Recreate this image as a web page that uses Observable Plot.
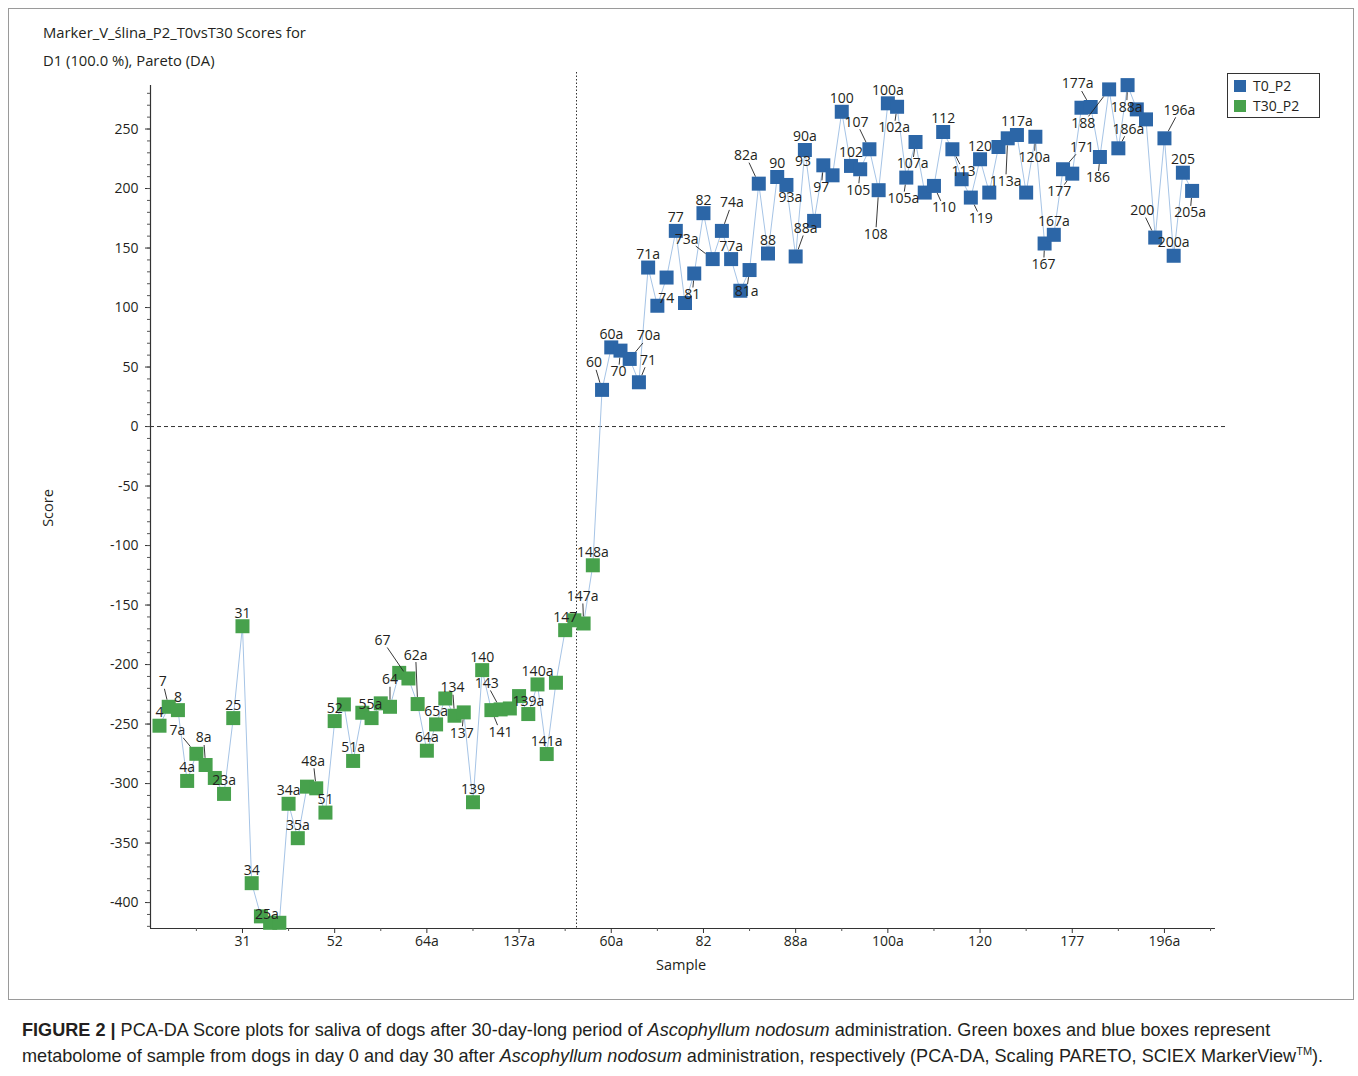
<!DOCTYPE html>
<html>
<head>
<meta charset="utf-8">
<script src="https://cdn.jsdelivr.net/npm/d3@7"></script>
<script src="https://cdn.jsdelivr.net/npm/@observablehq/plot@0.6"></script>
<style>
  html, body { margin: 0; padding: 0; background: #fff; }
  #page { position: relative; width: 1358px; height: 1076px; overflow: hidden; font-family: "Open Sans", sans-serif; color: #231f20; }
  #frame { position: absolute; left: 8px; top: 8px; width: 1346px; height: 992px; border: 1px solid #9a9a9a; box-sizing: border-box; }
  #chart { position: absolute; left: 0; top: 0; }
  .title { position: absolute; left: 43px; font-size: 14.8px; line-height: 18px; white-space: nowrap; }
  .axis-title { position: absolute; font-size: 14.5px; line-height: 18px; white-space: nowrap; }
  #legend { position: absolute; left: 1227px; top: 73px; width: 93px; height: 45px; border: 1.5px solid #333; box-sizing: border-box; background: #fff; }
  .lg-item { position: absolute; left: 6px; font-size: 14px; line-height: 16px; white-space: nowrap; }
  .lg-sw { display: inline-block; width: 12px; height: 12px; vertical-align: -1px; margin-right: 7px; }
  #caption { position: absolute; left: 22px; top: 1017px; font-family: "Liberation Sans", Arial, sans-serif; font-size: 18.1px; line-height: 26px; color: #231f20; white-space: nowrap; }
  #caption sup { font-size: 11px; line-height: 0; vertical-align: 7px; }
</style>
</head>
<body>
<div id="page">
  <div id="frame"></div>
  <div class="title" style="top:23px">Marker_V_ślina_P2_T0vsT30 Scores for</div>
  <div class="title" style="top:51px">D1 (100.0 %), Pareto (DA)</div>
  <div id="chart"></div>
  <div class="axis-title" id="ytitle" style="left:48px; top:508px; transform: translate(-50%,-50%) rotate(-90deg);">Score</div>
  <div class="axis-title" id="xtitle" style="left:681px; top:965px; transform: translate(-50%,-50%);">Sample</div>
  <div id="legend"></div>
  <div id="caption"><b>FIGURE 2 |</b> PCA-DA Score plots for saliva of dogs after 30-day-long period of <i>Ascophyllum nodosum</i> administration. Green boxes and blue boxes represent<br>metabolome of sample from dogs in day 0 and day 30 after <i>Ascophyllum nodosum</i> administration, respectively (PCA-DA, Scaling PARETO, SCIEX MarkerView<sup>TM</sup>).</div>
</div>
<script>
// ---------------- DATA ----------------
const seriesNames = ["T0_P2", "T30_P2"];
const seriesColors = ["#2c66a7", "#47a14c"];

// number of leading samples belonging to T30_P2 (green); the rest are T0_P2 (blue)
const t30Count = 48;

// PCA-DA score of every sample, in sample order 1..113
const scores = [
  -251.4, -235.5, -238.3, -297.8, -275.0, -284.4, -295.3, -308.7, -245.0, -167.8,
  -383.7, -411.6, -417.0, -417.0, -317.0, -345.9, -302.6, -304.0, -324.4, -247.5,
  -233.5, -281.0, -240.5, -245.0, -232.6, -235.5, -207.0, -211.7, -233.2, -272.4,
  -250.3, -228.5, -243.0, -240.2, -315.7, -204.7, -238.3, -237.7, -236.9, -226.5,
  -241.6, -216.7, -275.2, -215.3, -171.1, -162.8, -165.5, -116.6,
  30.8, 66.5, 63.8, 56.8, 37.2, 133.6, 101.5, 125.2, 164.4, 103.8,
  128.6, 179.3, 140.7, 164.4, 140.7, 114.1, 131.5, 204.1, 145.4, 209.7,
  203.0, 142.9, 232.4, 172.8, 219.5, 211.1, 264.5, 219.0, 216.2, 233.0,
  198.6, 271.6, 268.7, 209.2, 239.1, 196.6, 202.2, 247.5, 233.0, 207.8,
  192.4, 224.6, 196.6, 234.9, 242.2, 245.0, 196.6, 243.5, 153.8, 161.1,
  216.2, 212.5, 267.9, 268.5, 226.5, 283.3, 233.8, 286.9, 266.5, 258.1,
  158.8, 242.2, 143.5, 213.3, 198.0
];

// sample names visible in the picture ("" = no readable label)
const pointNames = [
  "4", "7", "8", "4a", "7a", "8a", "", "23a", "25", "31",
  "34", "25a", "", "", "34a", "35a", "", "48a", "51", "52",
  "", "51a", "55a", "", "", "64", "", "67", "62a", "64a",
  "65a", "", "134", "137", "139", "140", "141", "143", "", "137a",
  "139a", "140a", "141a", "", "147", "", "147a", "148a",
  "60", "60a", "70", "70a", "71", "71a", "74", "", "77", "",
  "81", "82", "73a", "74a", "77a", "", "81a", "82a", "88", "90",
  "93a", "88a", "90a", "93", "97", "", "100", "102", "105", "107",
  "108", "100a", "102a", "105a", "107a", "", "110", "112", "113", "",
  "119", "120", "", "", "113a", "117a", "", "120a", "167", "167a",
  "171", "177", "", "177a", "186", "188", "186a", "188a", "", "",
  "200", "196a", "200a", "205", "205a"
];
const hiddenLabels = ["137a"];

// x axis tick labels (every 10th sample)
const xTickSamples = [10, 20, 30, 40, 50, 60, 70, 80, 90, 100, 110];
const xTickLabels = ["31", "52", "64a", "137a", "60a", "82", "88a", "100a", "120", "177", "196a"];
const xMinorSamples = [5, 15, 25, 35, 45, 55, 65, 75, 85, 95, 105, 115];
const yTicks = [-400, -350, -300, -250, -200, -150, -100, -50, 0, 50, 100, 150, 200, 250];
const yMinorTicks = d3.range(-420, 290, 10);

// ---------------- LAYOUT ----------------
const W = 1358, H = 985;
const plotLeft = 150, plotRight = 1226, plotTop = 72, plotBottom = 928;
const xDomain = [0.024, 116.73];
const yDomain = [-421.8, 297.5];
const xAxisEnd = 115.53;        // end of drawn x axis line
const yAxisTop = 286.6;         // top of drawn y axis line
const dividerSample = 46.23;    // vertical dotted class boundary
const squareR = 7.9;

// label placement (px offsets from point centre), default above
const defaultOffset = [0, -13];
const labelOffsets = {
  "7": [-6, -25], "7a": [-19, -23], "8a": [-2, -27], "25a": [6, -2], "48a": [-3, -27],
  "55a": [8, -8], "64": [0, -27], "67": [-26, -38], "62a": [-2, -49], "134": [-2, -28],
  "137": [-2, 21], "141": [9, 22], "143": [-14, -26], "147a": [-1, -27], "60": [-8, -27],
  "70": [-2, 21], "70a": [19, -23], "71": [9, -22], "74": [9, -7], "81": [-2, 21],
  "73a": [-26, -20], "74a": [10, -28], "81a": [-3, 21], "82a": [-13, -28], "93a": [4, 13],
  "88a": [10, -28], "93": [-11, -59], "97": [-2, 22], "105": [-2, 21], "107": [-13, -27],
  "108": [-3, 44], "102a": [-3, 21], "105a": [-3, 21], "107a": [-3, 22], "110": [10, 22],
  "113": [11, 22], "119": [10, 21], "113a": [-2, 43], "120a": [-1, 21], "167": [-1, 21],
  "171": [19, -22], "177": [-13, 18], "177a": [-13, -23], "186": [-2, 21], "188": [-26, 34],
  "186a": [10, -19], "188a": [-1, 22], "200": [-13, -27], "196a": [15, -28], "205a": [-2, 22]
};
const noLeader = ["93"];

// ---------------- BUILD ----------------
const data = scores.map((s, k) => ({
  i: k + 1,
  score: s,
  name: pointNames[k],
  group: k < t30Count ? seriesNames[1] : seriesNames[0]
}));

const kx = (plotRight - plotLeft) / (xDomain[1] - xDomain[0]);
const ky = (plotBottom - plotTop) / (yDomain[1] - yDomain[0]);

const labels = data.filter(d => d.name && !hiddenLabels.includes(d.name)).map(d => {
  const [dx, dy] = labelOffsets[d.name] || defaultOffset;
  return {...d, dx, dy, lx: d.i + dx / kx, ly: d.score - dy / ky};
});

const leaders = [];
for (const d of labels) {
  if (Math.abs(d.dy) < 17 || noLeader.includes(d.name)) continue;
  const vx = d.dx, vy = d.dy;
  const t1 = (squareR * 0.9) / Math.max(Math.abs(vx), Math.abs(vy));
  const w = d.name.length * 4 + 1, h = 7;
  const t2 = Math.min(vx === 0 ? Infinity : w / Math.abs(vx), h / Math.abs(vy));
  const e = 1 - t2;
  if (e <= t1 + 0.03) continue;
  leaders.push({
    x1: d.i + (vx * t1) / kx, y1: d.score - (vy * t1) / ky,
    x2: d.i + (vx * e) / kx, y2: d.score - (vy * e) / ky
  });
}

const chart = Plot.plot({
  width: W,
  height: H,
  marginLeft: plotLeft,
  marginRight: W - plotRight,
  marginTop: plotTop,
  marginBottom: H - plotBottom,
  x: {domain: xDomain},
  y: {domain: yDomain},
  color: {domain: seriesNames, range: seriesColors},
  style: {fontFamily: "Open Sans", fontSize: "14px", color: "#231f20", background: "transparent", overflow: "visible"},
  marks: [
    Plot.ruleY([0], {stroke: "#333", strokeWidth: 1, strokeDasharray: "4,3"}),
    Plot.ruleX([dividerSample], {stroke: "#333", strokeWidth: 1, strokeDasharray: "1.5,2"}),
    Plot.ruleX([xDomain[0]], {y1: yDomain[0], y2: yAxisTop, stroke: "#333", strokeWidth: 1.2}),
    Plot.ruleY([yDomain[0]], {x1: xDomain[0], x2: xAxisEnd, stroke: "#333", strokeWidth: 1.2}),
    Plot.axisY(yTicks, {tickSize: 5, tickPadding: 7, label: null, fontSize: 14, stroke: "#333",
      tickFormat: d => String(d)}),
    Plot.axisY(yMinorTicks, {tickSize: 3, tickFormat: () => "", label: null, stroke: "#555"}),
    Plot.axisX(xTickSamples, {tickSize: 5, tickPadding: 3, label: null, fontSize: 14, stroke: "#333",
      tickFormat: d => xTickLabels[xTickSamples.indexOf(d)]}),
    Plot.axisX(xMinorSamples.filter(v => v <= xAxisEnd), {tickSize: 3, tickFormat: () => "", label: null, stroke: "#555"}),
    Plot.line(data, {x: "i", y: "score", stroke: "#a6c4e6", strokeWidth: 1}),
    Plot.dot(data, {x: "i", y: "score", fill: "group", symbol: "square", r: squareR, stroke: null}),
    Plot.link(leaders, {x1: "x1", y1: "y1", x2: "x2", y2: "y2", stroke: "#222", strokeWidth: 0.9}),
    Plot.text(labels, {x: "lx", y: "ly", text: "name", fill: "#231f20", fontSize: 14})
  ]
});
document.getElementById("chart").appendChild(chart);

// legend
const legend = document.getElementById("legend");
seriesNames.forEach((n, k) => {
  const item = document.createElement("div");
  item.className = "lg-item";
  item.style.top = (4 + k * 20) + "px";
  item.innerHTML = `<span class="lg-sw" style="background:${seriesColors[k]}"></span>${n}`;
  legend.appendChild(item);
});
</script>
</body>
</html>
